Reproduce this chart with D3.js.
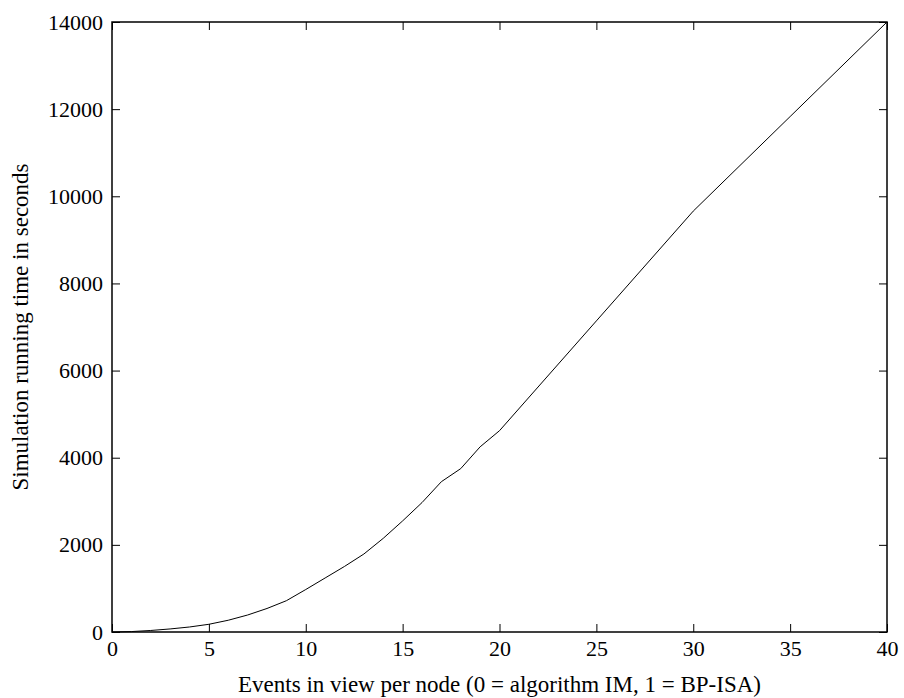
<!DOCTYPE html>
<html>
<head>
<meta charset="utf-8">
<script src="https://cdn.jsdelivr.net/npm/d3@7"></script>
<style>
  html, body { margin: 0; padding: 0; background: #fff; }
  svg { display: block; }
  text { font-family: "Liberation Serif", "Times New Roman", serif; fill: #000; }
</style>
</head>
<body>
<svg id="chart" width="904" height="698"></svg>
<script>
// Events in view per node
const events = [0, 1, 2, 3, 4, 5, 6, 7, 8, 9, 10, 11, 12, 13, 14, 15, 16, 17, 18, 19, 20, 25, 30, 35, 40];
// Simulation running time (seconds)
const runningTime = [0, 10, 35, 70, 115, 177, 270, 390, 540, 718, 975, 1240, 1505, 1790, 2150, 2550, 2970, 3450, 3750, 4250, 4620, 7140, 9660, 11830, 14000];
const xTicks = [0, 5, 10, 15, 20, 25, 30, 35, 40];
const yTicks = [0, 2000, 4000, 6000, 8000, 10000, 12000, 14000];
const xLabel = "Events in view per node (0 = algorithm IM, 1 = BP-ISA)";
const yLabel = "Simulation running time in seconds";

const svg = d3.select("#chart");
const plotLeft = 112, plotRight = 887, plotTop = 22, plotBottom = 632;

const x = d3.scaleLinear().domain([0, 40]).range([plotLeft, plotRight]);
const y = d3.scaleLinear().domain([0, 14000]).range([plotBottom, plotTop]);
const tickLen = 8;

// inward ticks on all four sides
svg.append("g").attr("transform", `translate(0,${plotBottom})`)
  .call(d3.axisBottom(x).tickValues(xTicks).tickSizeInner(-tickLen).tickSizeOuter(0).tickPadding(6))
  .call(g => g.select(".domain").remove())
  .call(g => g.selectAll("text").attr("font-size", 22).attr("dy", "0.95em").attr("y", 3));
svg.append("g").attr("transform", `translate(0,${plotTop})`)
  .call(d3.axisTop(x).tickValues(xTicks).tickSizeInner(-tickLen).tickSizeOuter(0).tickFormat(""))
  .call(g => g.select(".domain").remove());
svg.append("g").attr("transform", `translate(${plotLeft},0)`)
  .call(d3.axisLeft(y).tickValues(yTicks).tickSizeInner(-tickLen).tickSizeOuter(0).tickFormat(d3.format("d")))
  .call(g => g.select(".domain").remove())
  .call(g => g.selectAll("text").attr("font-size", 22).attr("x", -9));
svg.append("g").attr("transform", `translate(${plotRight},0)`)
  .call(d3.axisRight(y).tickValues(yTicks).tickSizeInner(-tickLen).tickSizeOuter(0).tickFormat(""))
  .call(g => g.select(".domain").remove());

svg.selectAll(".tick line").attr("stroke", "#000").attr("stroke-width", 1);

// data line
const line = d3.line().x((d, i) => x(events[i])).y(d => y(d));
svg.append("path")
  .datum(runningTime)
  .attr("d", line)
  .attr("fill", "none")
  .attr("stroke", "#000")
  .attr("stroke-width", 1);

// plot frame
svg.append("rect")
  .attr("x", plotLeft).attr("y", plotTop)
  .attr("width", plotRight - plotLeft).attr("height", plotBottom - plotTop)
  .attr("fill", "none").attr("stroke", "#000").attr("stroke-width", 1.5);

// axis titles
svg.append("text")
  .attr("x", (plotLeft + plotRight) / 2).attr("y", 692)
  .attr("text-anchor", "middle").attr("font-size", 23)
  .text(xLabel);
svg.append("text")
  .attr("transform", `translate(28,${(plotTop + plotBottom) / 2}) rotate(-90)`)
  .attr("text-anchor", "middle").attr("font-size", 23)
  .text(yLabel);
</script>
</body>
</html>
